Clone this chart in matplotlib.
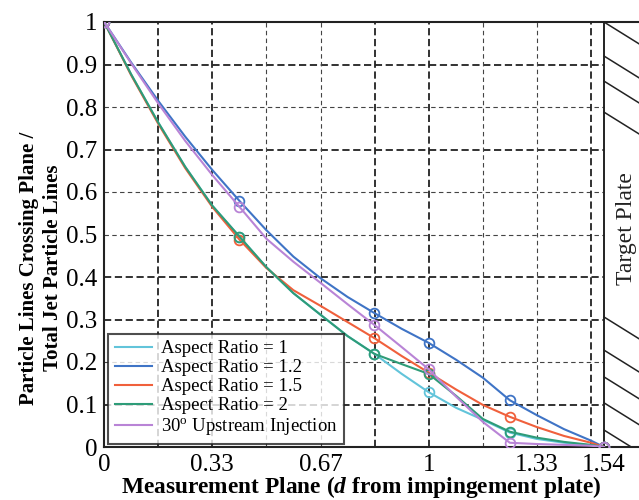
import numpy as np
import matplotlib
matplotlib.use("Agg")
import matplotlib.pyplot as plt

plt.rcParams['font.family'] = ['Liberation Serif', 'DejaVu Serif']
plt.rcParams['mathtext.fontset'] = 'custom'
plt.rcParams['mathtext.rm'] = 'Liberation Serif'
plt.rcParams['mathtext.it'] = 'Liberation Serif:italic'
plt.rcParams['mathtext.bf'] = 'Liberation Serif:bold'
plt.rcParams['mathtext.bfit'] = 'Liberation Serif:italic:bold'

# distance from impingement plate
x_pts = [0, 0.083, 0.167, 0.25, 0.333, 0.417, 0.5, 0.583, 0.667, 0.75, 0.833,
         0.917, 1.0, 1.085, 1.167, 1.25, 1.333, 1.417, 1.5, 1.54]
# measurement planes where the circles sit
marker_idx = [0, 5, 10, 12, 15, 19]

ar1 = [1, 0.877, 0.763, 0.659, 0.568, 0.495, 0.423, 0.362, 0.311, 0.261, 0.219,
       0.172, 0.129, 0.092, 0.064, 0.034, 0.019, 0.010, 0.004, 0]
ar12 = [1, 0.905, 0.814, 0.73, 0.652, 0.579, 0.51, 0.448, 0.397, 0.353, 0.315,
        0.278, 0.245, 0.205, 0.163, 0.11, 0.075, 0.042, 0.015, 0]
ar15 = [1, 0.875, 0.76, 0.656, 0.565, 0.488, 0.421, 0.369, 0.332, 0.294, 0.256,
        0.214, 0.175, 0.135, 0.099, 0.071, 0.047, 0.026, 0.010, 0]
ar2 = [1, 0.877, 0.763, 0.659, 0.568, 0.495, 0.423, 0.362, 0.311, 0.261, 0.219,
       0.195, 0.172, 0.12, 0.066, 0.036, 0.022, 0.012, 0.005, 0]
up30 = [1, 0.903, 0.808, 0.72, 0.64, 0.565, 0.49, 0.436, 0.386, 0.336, 0.287,
        0.235, 0.183, 0.118, 0.059, 0.01, 0.007, 0.005, 0.003, 0]

labels = ['Aspect Ratio = 1', 'Aspect Ratio = 1.2', 'Aspect Ratio = 1.5',
          'Aspect Ratio = 2', '30$^\\mathregular{o}$ Upstream Injection']
colors = ['#62c4da', '#3f74c6', '#f0603c', '#2e9c78', '#b984d6']

xtick_pos = [0, 1/3, 2/3, 1, 4/3, 1.54]
xtick_lab = ['0', '0.33', '0.67', '1', '1.33', '1.54']
ytick_pos = [0, 0.1, 0.2, 0.3, 0.4, 0.5, 0.6, 0.7, 0.8, 0.9, 1.0]
ytick_lab = ['0', '0.1', '0.2', '0.3', '0.4', '0.5', '0.6', '0.7', '0.8', '0.9', '1']

# grid lines: heavy ones and light ones
h_heavy = [0.9, 0.7, 0.4, 0.3, 0.1]
h_light = [0.8, 0.6, 0.5, 0.2]
v_heavy = [1/6, 2/6, 5/6, 1.0, 1.5]
v_light = [3/6, 4/6, 7/6, 8/6]

plate_x = 1.54
hatch_top = [1.0, 0.92, 0.861, 0.788]
hatch_bot = [0.306, 0.228, 0.165, 0.104, 0.04]

fig = plt.figure(figsize=(6.39, 5.0), dpi=100)
ax = fig.add_axes([0.163, 0.106, 0.837, 0.85])
ax.set_xlim(0, 1.648)
ax.set_ylim(0, 1)

for y in h_heavy:
    ax.plot([0, plate_x], [y, y], color='#222222', lw=1.3, ls=(0, (4, 2)), zorder=1)
for y in h_light:
    ax.plot([0, plate_x], [y, y], color='#444444', lw=0.8, ls=(0, (4, 3)), zorder=1)
for x in v_heavy:
    ax.axvline(x, color='#222222', lw=1.3, ls=(0, (4, 2)), zorder=1)
for x in v_light:
    ax.axvline(x, color='#444444', lw=0.8, ls=(0, (4, 3)), zorder=1)

# target plate with hatching
ax.axvline(plate_x, color='#222222', lw=1.4, zorder=3)
for y0 in hatch_top + hatch_bot:
    ax.plot([plate_x, plate_x + 0.2], [y0, y0 - 0.095], color='#222222', lw=1.1, zorder=3)
ax.text(1.608, 0.515, 'Target Plate', rotation=90, ha='center', va='center',
        fontsize=17, color='#222222', zorder=4)

series = [ar1, ar12, ar15, ar2, up30]
for ys, c, lab in zip(series, colors, labels):
    ax.plot(x_pts, ys, color=c, lw=1.5, marker='o', markevery=marker_idx,
            markersize=7, markerfacecolor='none', markeredgecolor=c,
            markeredgewidth=1.3, label=lab, zorder=5)

ax.set_xticks(xtick_pos)
ax.set_xticklabels(xtick_lab)
ax.set_yticks(ytick_pos)
ax.set_yticklabels(ytick_lab)
ax.tick_params(axis='both', length=0, labelsize=18, pad=5)

ax.spines['right'].set_visible(False)
for s in ['left', 'top', 'bottom']:
    ax.spines[s].set_linewidth(1.5)
    ax.spines[s].set_color('#222222')

leg = ax.legend(loc='lower left', bbox_to_anchor=(0.004, 0.003), fontsize=13.5,
                frameon=True, fancybox=False, edgecolor='#222222',
                handlelength=2.0, handletextpad=0.45, borderpad=0.35,
                labelspacing=0.1, borderaxespad=0.1)
leg.get_frame().set_linewidth(1.5)
for h in leg.get_lines():
    h.set_marker('')
leg.set_zorder(6)

fig.text(0.565, 0.026, 'Measurement Plane ($\\mathbfit{d}$ from impingement plate)',
         ha='center', va='center', fontsize=16.8, fontweight='bold')
fig.text(0.064, 0.464, 'Particle Lines Crossing Plane /\nTotal Jet Particle Lines',
         ha='center', va='center', rotation=90, fontsize=15, fontweight='bold',
         multialignment='center', linespacing=1.3)

fig.savefig('out.png', dpi=100)
